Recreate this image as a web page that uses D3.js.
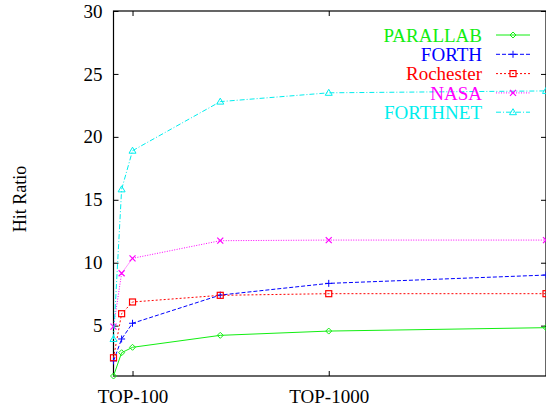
<!DOCTYPE html>
<meta charset="utf-8">
<style>
body { margin: 0; background: #fff; }
svg text { font-family: "Liberation Serif", "DejaVu Serif", serif; }
.axis .domain { display: none; }
.axis line { stroke: #000; }
.axis text { font-size: 19px; fill: #000; }
.legend text { font-size: 19px; }
</style>
<svg width="546" height="412"></svg>
<script src="https://d3js.org/d3.v7.min.js"></script>
<script>
// x positions (list sizes), log scale
var sizes = [80, 88, 100, 280, 1000, 12800];
var xTicks = [100, 1000];
var xTickLabels = ["TOP-100", "TOP-1000"];
var yTicks = [5, 10, 15, 20, 25, 30];

var names = ["PARALLAB", "FORTH", "Rochester", "NASA", "FORTHNET"];
var parallab = [1.0, 2.85, 3.28, 4.23, 4.57, 4.84];
var forth = [2.2, 3.94, 5.19, 7.43, 8.36, 9.02];
var rochester = [2.45, 5.95, 6.88, 7.41, 7.54, 7.54];
var nasa = [4.92, 9.16, 10.35, 11.75, 11.8, 11.8];
var forthnet = [3.94, 15.83, 18.9, 22.8, 23.5, 23.65];

var colors = ["#11ee11", "#0000ff", "#ff0000", "#ff00ff", "#00eeee"];
var dashes = [null, "4,2", "2,2", "1,1.5", "5,2,1,2"];
var markers = ["diamond", "plus", "square", "cross", "triangle"];

var series = [parallab, forth, rochester, nasa, forthnet].map(function(vals, i) {
  return {name: names[i], values: vals.map(function(v, j) { return {x: sizes[j], y: v}; })};
});

var svg = d3.select("svg"),
    pLeft = 113.5, pRight = 546, pTop = 11, pBottom = 376;

var x = d3.scaleLog().domain([80, 12800]).range([pLeft, pRight]);
var y = d3.scaleLinear().domain([1, 30]).range([pBottom, pTop]);

// axes with inward ticks, mirrored on top and right
svg.append("g").attr("class", "axis")
  .attr("transform", "translate(" + pLeft + ",0)")
  .call(d3.axisLeft(y).tickValues(yTicks).tickSizeInner(-5).tickPadding(11).tickFormat(d3.format("d")));
svg.append("g").attr("class", "axis")
  .attr("transform", "translate(" + pRight + ",0)")
  .call(d3.axisRight(y).tickValues(yTicks).tickSizeInner(-5).tickFormat(""));
svg.append("g").attr("class", "axis")
  .attr("transform", "translate(0," + pBottom + ")")
  .call(d3.axisBottom(x).tickValues(xTicks).tickSizeInner(-5).tickPadding(14)
    .tickFormat(function(d, i) { return xTickLabels[i]; }));
svg.append("g").attr("class", "axis")
  .attr("transform", "translate(0," + pTop + ")")
  .call(d3.axisTop(x).tickValues(xTicks).tickSizeInner(-5).tickFormat(""));

svg.append("rect")
  .attr("x", pLeft).attr("y", pTop)
  .attr("width", pRight - pLeft).attr("height", pBottom - pTop)
  .attr("fill", "none").attr("stroke", "#000").attr("stroke-width", 1.2);

var line = d3.line().x(function(d) { return x(d.x); }).y(function(d) { return y(d.y); });

function drawMarker(sel, kind, color) {
  if (kind === "diamond") {
    sel.append("path").attr("d", "M0,-3L3,0L0,3L-3,0Z").attr("fill", "none").attr("stroke", color);
  } else if (kind === "plus") {
    sel.append("path").attr("d", "M-3.5,0H3.5M0,-3.5V3.5").attr("stroke", color);
  } else if (kind === "square") {
    sel.append("rect").attr("x", -3).attr("y", -3).attr("width", 6).attr("height", 6)
      .attr("fill", "none").attr("stroke", color).attr("stroke-width", 1.2);
  } else if (kind === "cross") {
    sel.append("path").attr("d", "M-3,-3L3,3M-3,3L3,-3").attr("stroke", color).attr("stroke-width", 1.2);
  } else {
    sel.append("path").attr("d", "M0,-3.5L3.5,2.5H-3.5Z").attr("fill", "none").attr("stroke", color);
  }
}

var plot = svg.append("g");
series.forEach(function(s, i) {
  plot.append("path")
    .datum(s.values)
    .attr("d", line)
    .attr("fill", "none")
    .attr("stroke", colors[i])
    .attr("stroke-width", 1)
    .attr("stroke-dasharray", dashes[i]);
  plot.selectAll(".m" + i)
    .data(s.values)
    .enter().append("g")
    .attr("transform", function(d) { return "translate(" + x(d.x) + "," + y(d.y) + ")"; })
    .each(function() { drawMarker(d3.select(this), markers[i], colors[i]); });
});

// legend
var legend = svg.append("g").attr("class", "legend")
  .selectAll("g")
  .data(names)
  .enter().append("g")
  .attr("transform", function(d, i) { return "translate(0," + (35 + i * 19.3) + ")"; });
legend.append("text")
  .attr("x", 482).attr("dy", "0.35em")
  .attr("text-anchor", "end")
  .attr("fill", function(d, i) { return colors[i]; })
  .text(function(d) { return d; });
legend.append("line")
  .attr("x1", 496).attr("x2", 530)
  .attr("stroke", function(d, i) { return colors[i]; })
  .attr("stroke-dasharray", function(d, i) { return dashes[i]; });
legend.each(function(d, i) {
  drawMarker(d3.select(this).append("g").attr("transform", "translate(513,0)"), markers[i], colors[i]);
});

svg.append("text")
  .attr("transform", "translate(26,199) rotate(-90)")
  .attr("text-anchor", "middle")
  .attr("font-size", 18)
  .text("Hit Ratio");
</script>
